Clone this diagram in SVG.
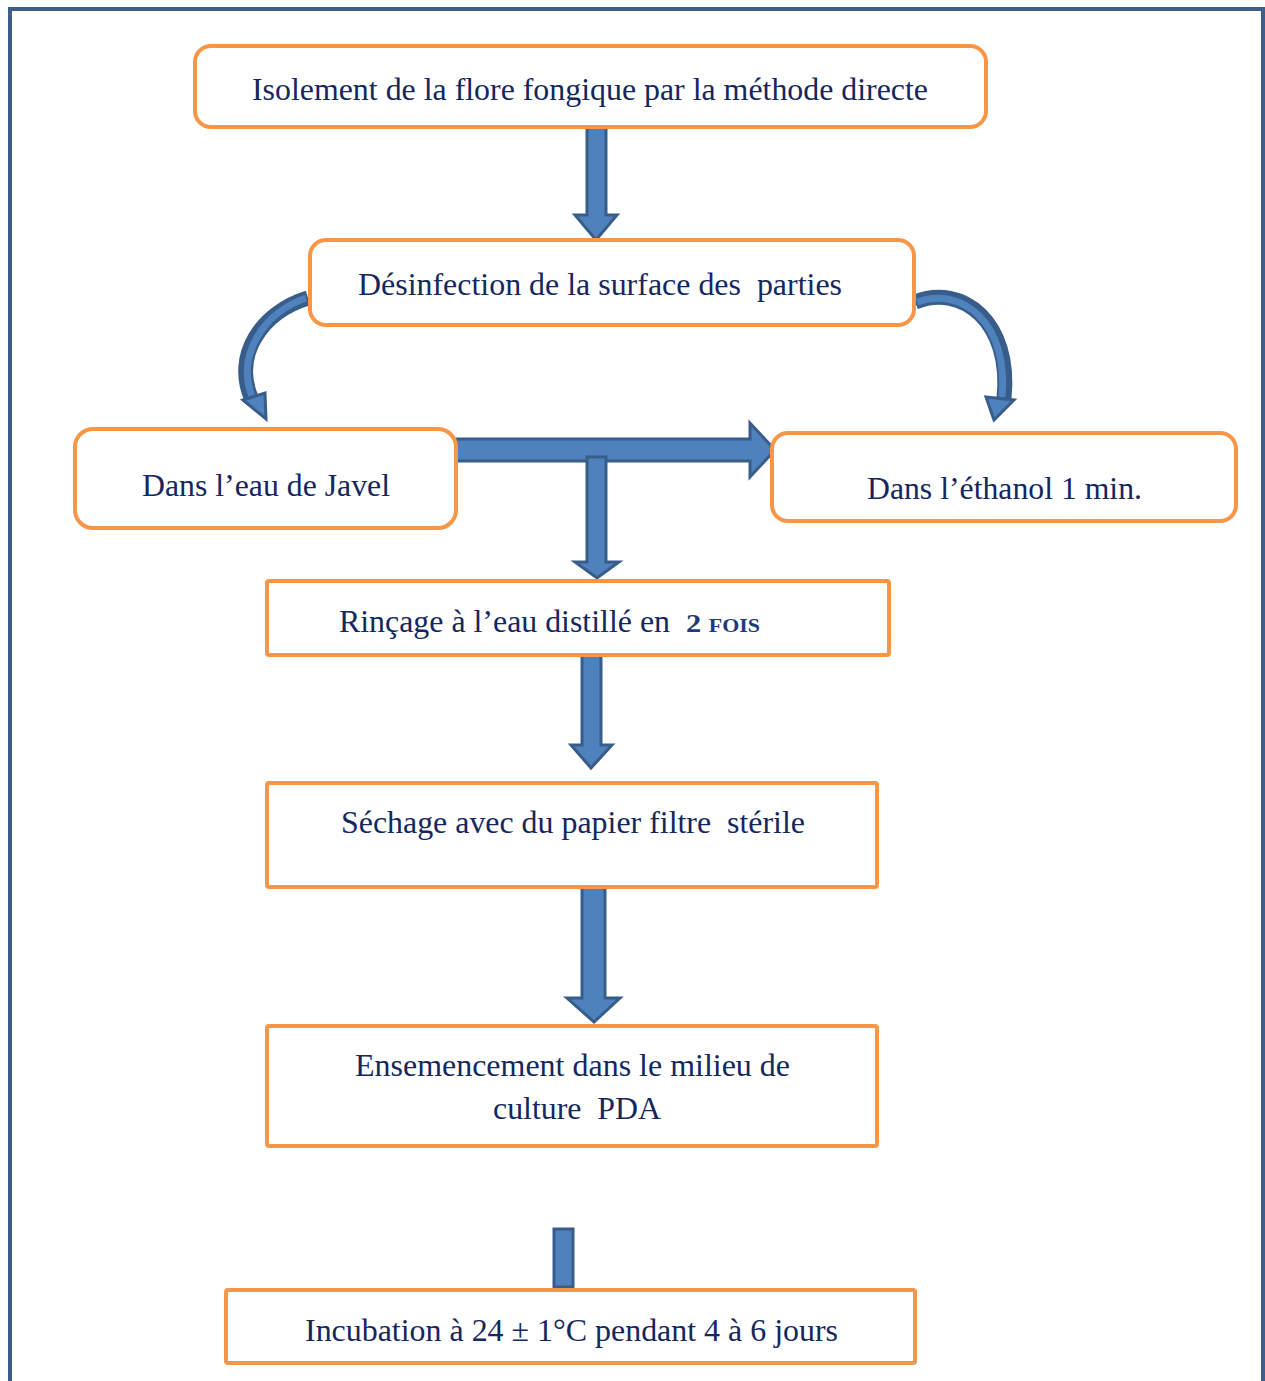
<svg xmlns="http://www.w3.org/2000/svg" width="1265" height="1381" viewBox="0 0 1265 1381">
<style>
.box{fill:#fff;stroke:#F79646;stroke-width:4}
.t{font-family:'Liberation Serif','Times New Roman',serif;font-size:31px;fill:#14275E;white-space:pre}
.arr{fill:#4F81BD;stroke:#385D8A;stroke-width:3;stroke-linejoin:miter}
.cOut{fill:none;stroke:#385D8A;stroke-width:15;stroke-linecap:butt}
.cIn{fill:none;stroke:#4F81BD;stroke-width:7;stroke-linecap:butt}
</style>
<rect width="1265" height="1381" fill="#fff"/>
<path d="M10,1381 V9 H1263 V1381" fill="none" stroke="#3E5F8A" stroke-width="4"/>

<g id="connectors">
<polygon class="arr" points="587,126 606,126 606,215 617,215 596,240 575,215 587,215"/>
<polygon class="arr" points="455,439 750,439 750,423 775,450 750,477 750,461 455,461"/>
<polygon class="arr" points="587,457 606,457 606,562 619,562 597,578 575,562 587,562"/>
<polygon class="arr" points="582,655 601,655 601,745 612,745 591,768 571,745 582,745"/>
<polygon class="arr" points="582,887 605,887 605,998 620,998 594,1022 567,998 582,998"/>
<rect class="arr" x="554" y="1229" width="19" height="58"/>
<path class="cOut" d="M308,298 C262,312 232,355 252,400"/>
<path class="cIn" d="M306,298 C263,313 235,356 253,399"/>
<polygon class="arr" points="243,400 265,393 266,419"/>
<path class="cOut" d="M915,302 C962,283 1012,322 1004,398"/>
<path class="cIn" d="M917,302 C962,286 1009,323 1002,397"/>
<polygon class="arr" points="986,397 1014,400 994,420"/>
</g>

<g id="n1"><rect class="box" x="195" y="46" width="791" height="81" rx="16"/>
<text class="t" font-family="Liberation Serif, serif" x="252" y="100" textLength="676" lengthAdjust="spacingAndGlyphs">Isolement de la flore fongique par la méthode directe</text></g>
<g id="n2"><rect class="box" x="310" y="240" width="604" height="85" rx="16"/>
<text class="t" font-family="Liberation Serif, serif" x="358" y="295" textLength="484" lengthAdjust="spacingAndGlyphs">Désinfection de la surface des  parties</text></g>
<g id="n3"><rect class="box" x="75" y="429" width="381" height="99" rx="18"/>
<text class="t" font-family="Liberation Serif, serif" x="142" y="496" textLength="248" lengthAdjust="spacingAndGlyphs">Dans l’eau de Javel</text></g>
<g id="n4"><rect class="box" x="772" y="433" width="464" height="88" rx="16"/>
<text class="t" font-family="Liberation Serif, serif" x="867" y="499" textLength="275" lengthAdjust="spacingAndGlyphs">Dans l’éthanol 1 min.</text></g>
<g id="n5"><rect class="box" x="267" y="581" width="622" height="74" rx="2"/>
<text class="t" font-family="Liberation Serif, serif" x="339" y="632" textLength="331" lengthAdjust="spacingAndGlyphs">Rinçage à l’eau distillé en</text>
<text x="686" y="632" textLength="74" lengthAdjust="spacingAndGlyphs" font-family="Liberation Serif, serif" font-size="25" font-weight="bold" font-variant="small-caps" fill="#1F3A78">2 fois</text></g>
<g id="n6"><rect class="box" x="267" y="783" width="610" height="104" rx="2"/>
<text class="t" font-family="Liberation Serif, serif" x="341" y="833" textLength="464" lengthAdjust="spacingAndGlyphs">Séchage avec du papier filtre  stérile</text></g>
<g id="n7"><rect class="box" x="267" y="1026" width="610" height="120" rx="2"/>
<text class="t" font-family="Liberation Serif, serif" x="355" y="1076" textLength="435" lengthAdjust="spacingAndGlyphs">Ensemencement dans le milieu de</text>
<text class="t" font-family="Liberation Serif, serif" x="493" y="1119" textLength="168" lengthAdjust="spacingAndGlyphs">culture  PDA</text></g>
<g id="n8"><rect class="box" x="226" y="1290" width="689" height="73" rx="2"/>
<text class="t" font-family="Liberation Serif, serif" x="305" y="1341" textLength="533" lengthAdjust="spacingAndGlyphs">Incubation à 24 ± 1°C pendant 4 à 6 jours</text></g>
</svg>
